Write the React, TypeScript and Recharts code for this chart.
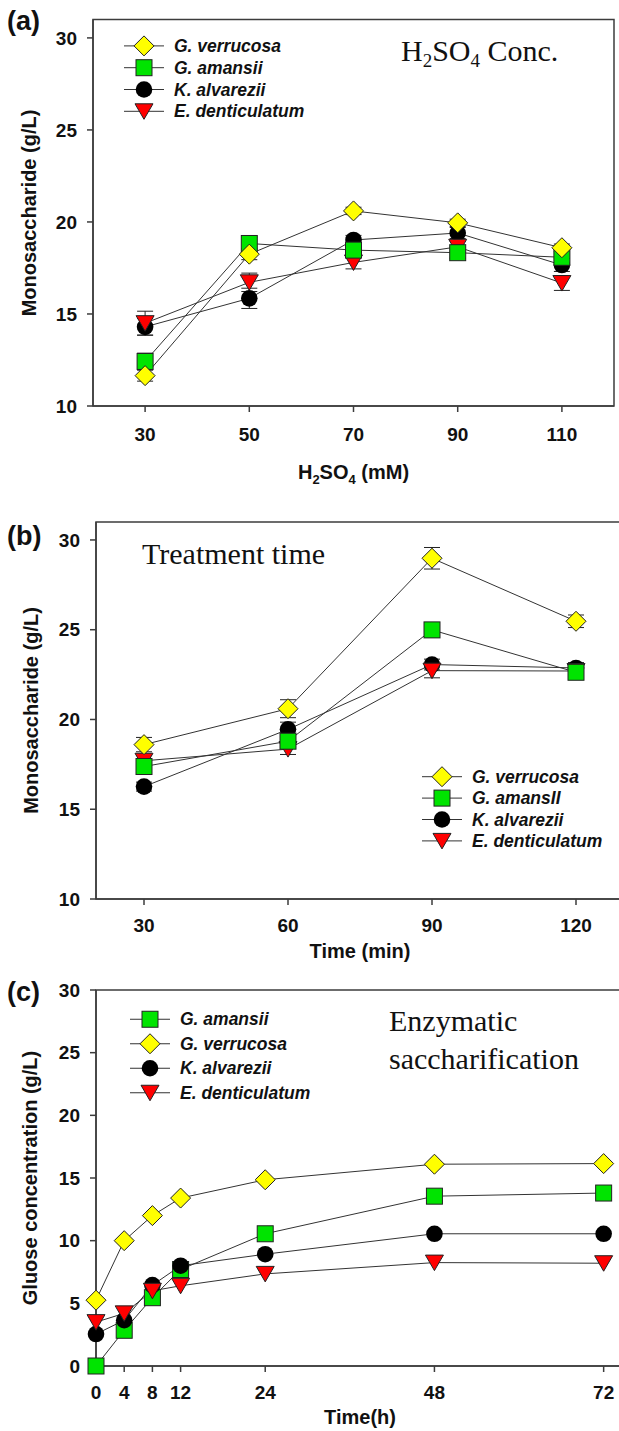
import React from 'react';
import { LineChart, Line, XAxis, YAxis, ErrorBar, ReferenceArea, Legend } from 'recharts';

// (a) acid concentration, mM
const acidConc = [30, 50, 70, 90, 110];
const acidVerrucosa = [11.65, 18.25, 20.6, 19.95, 18.6];
const acidAmansii = [12.42, 18.83, 18.47, 18.33, 18.08];
const acidAlvarezii = [14.3, 15.85, 19.02, 19.4, 17.66];
const acidDenticulatum = [14.5, 16.72, 17.8, 18.65, 16.68];
const acidVerrucosaErr = [0.3, 0.3, 0.2, 0.2, 0.2];
const acidAmansiiErr = [0.45, 0.35, 0.3, 0.3, 0.3];
const acidAlvareziiErr = [0.45, 0.55, 0.25, 0.3, 0.35];
const acidDenticulatumErr = [0.65, 0.5, 0.35, 0.3, 0.4];

// (b) treatment time, min
const timeMin = [30, 60, 90, 120];
const timeVerrucosa = [18.6, 20.6, 28.98, 25.47];
const timeAmansii = [17.38, 18.79, 24.99, 22.63];
const timeAlvarezii = [16.26, 19.45, 23.06, 22.87];
const timeDenticulatum = [17.7, 18.35, 22.72, 22.7];
const timeVerrucosaErr = [0.4, 0.5, 0.6, 0.35];
const timeAmansiiErr = [0.3, 0.3, 0.4, 0.3];
const timeAlvareziiErr = [0.25, 0.4, 0.3, 0.3];
const timeDenticulatumErr = [0.3, 0.3, 0.4, 0.3];

// (c) enzymatic saccharification, h
const hours = [0, 4, 8, 12, 24, 48, 72];
const glcAmansii = [0, 2.85, 5.45, 7.7, 10.55, 13.55, 13.8];
const glcVerrucosa = [5.25, 10.0, 12.0, 13.4, 14.86, 16.1, 16.15];
const glcAlvarezii = [2.55, 3.65, 6.45, 8.0, 8.92, 10.55, 10.55];
const glcDenticulatum = [3.5, 4.2, 6.0, 6.4, 7.35, 8.25, 8.2];

const monoTicks = [10, 15, 20, 25, 30];
const glcTicks = [0, 5, 10, 15, 20, 25, 30];

const FONT = '"Liberation Sans", Arial, sans-serif';
const SERIF = '"Liberation Serif", "Times New Roman", serif';
const AXIS = '#3c3c3c';

type Kind = 'diamond' | 'square' | 'circle' | 'triangle';

const species: Record<string, { kind: Kind; name: string }> = {
  gv: { kind: 'diamond', name: 'G. verrucosa' },
  ga: { kind: 'square', name: 'G. amansii' },
  ka: { kind: 'circle', name: 'K. alvarezii' },
  ed: { kind: 'triangle', name: 'E. denticulatum' },
};

const acidRows = acidConc.map((x, i) => ({
  x,
  gv: acidVerrucosa[i], ga: acidAmansii[i], ka: acidAlvarezii[i], ed: acidDenticulatum[i],
  gvErr: acidVerrucosaErr[i], gaErr: acidAmansiiErr[i], kaErr: acidAlvareziiErr[i], edErr: acidDenticulatumErr[i],
}));

const timeRows = timeMin.map((x, i) => ({
  x,
  gv: timeVerrucosa[i], ga: timeAmansii[i], ka: timeAlvarezii[i], ed: timeDenticulatum[i],
  gvErr: timeVerrucosaErr[i], gaErr: timeAmansiiErr[i], kaErr: timeAlvareziiErr[i], edErr: timeDenticulatumErr[i],
}));

const glcRows = hours.map((x, i) => ({
  x, ga: glcAmansii[i], gv: glcVerrucosa[i], ka: glcAlvarezii[i], ed: glcDenticulatum[i],
}));

function Marker({ kind, cx, cy }: { kind: Kind; cx: number; cy: number }) {
  if (kind === 'diamond')
    return <path d={`M${cx},${cy - 10}L${cx + 10},${cy}L${cx},${cy + 10}L${cx - 10},${cy}Z`} fill="#ffff00" stroke="#222" strokeWidth={1} />;
  if (kind === 'square')
    return <rect x={cx - 8} y={cy - 8} width={16} height={16} fill="#00e400" stroke="#222" strokeWidth={1} />;
  if (kind === 'circle') return <circle cx={cx} cy={cy} r={8.3} fill="#000" />;
  return <path d={`M${cx - 9},${cy - 7.5}L${cx + 9},${cy - 7.5}L${cx},${cy + 8}Z`} fill="#ff0000" stroke="#222" strokeWidth={1} />;
}

const dotFor = (key: string) => (p: any) => {
  if (p.cx == null || p.cy == null) return <g key={`${key}-${p.index}`} />;
  return (
    <g key={`${key}-${p.index}`}>
      <Marker kind={species[key].kind} cx={p.cx} cy={p.cy} />
    </g>
  );
};

function SpeciesLegend({ order, rowH, names = {} }: { order: string[]; rowH: number; names?: Record<string, string> }) {
  return (
    <svg width={230} height={rowH * order.length} style={{ overflow: 'visible', display: 'block' }}>
      {order.map((k, i) => {
        const y = rowH * (i + 0.5);
        return (
          <g key={k}>
            <line x1={0} x2={40} y1={y} y2={y} stroke="#333" strokeWidth={1} />
            <Marker kind={species[k].kind} cx={20} cy={y} />
            <text x={50} y={y} dy="0.35em" fontFamily={FONT} fontStyle="italic" fontWeight={700} fontSize={17.5} fill="#111">
              {names[k] || species[k].name}
            </text>
          </g>
        );
      })}
    </svg>
  );
}

const tickStyle = { fill: '#111', fontSize: 19, fontWeight: 700, fontFamily: FONT };

function seriesLines(order: string[], withErr: boolean) {
  return order.map((k) => (
    <Line
      key={k}
      type="linear"
      dataKey={k}
      stroke="#333"
      strokeWidth={1}
      dot={dotFor(k)}
      activeDot={false}
      isAnimationActive={false}
    >
      {withErr && <ErrorBar dataKey={`${k}Err`} direction="y" width={8} stroke="#222" strokeWidth={1} isAnimationActive={false} />}
    </Line>
  ));
}

function yTitle(text: string, x: number, y: number) {
  return () => (
    <text x={x} y={y} transform={`rotate(-90, ${x}, ${y})`} textAnchor="middle" fontFamily={FONT} fontWeight={700} fontSize={20} fill="#111">
      {text}
    </text>
  );
}

function xTitle(content: React.ReactNode, x: number, y: number) {
  return () => (
    <text x={x} y={y} textAnchor="middle" fontFamily={FONT} fontWeight={700} fontSize={20} fill="#111">
      {content}
    </text>
  );
}

export default function App() {
  return (
    <div style={{ position: 'absolute', left: 0, top: 0, width: 619, height: 1431, overflow: 'hidden', background: '#fff' }}>
      {/* (a) */}
      <div style={{ position: 'absolute', left: 0, top: 0 }}>
        <LineChart width={619} height={490} data={acidRows} margin={{ top: 19.5, right: 5, left: 0, bottom: 0 }}>
          <XAxis
            type="number" dataKey="x" domain={[20, 120]} ticks={acidConc} interval={0}
            height={84} tickSize={6} tickMargin={16} tick={tickStyle}
            axisLine={{ stroke: AXIS, strokeWidth: 1.5 }} tickLine={{ stroke: AXIS, strokeWidth: 1.5 }}
            label={xTitle(<>H<tspan dy={5} fontSize={13}>2</tspan><tspan dy={-5}>SO</tspan><tspan dy={5} fontSize={13}>4</tspan><tspan dy={-5}> (mM)</tspan></>, 353.5, 479)}
          />
          <YAxis
            type="number" domain={[10, 31]} ticks={monoTicks} interval={0}
            width={93} tickSize={6} tickMargin={10} tick={tickStyle}
            axisLine={{ stroke: AXIS, strokeWidth: 1.5 }} tickLine={{ stroke: AXIS, strokeWidth: 1.5 }}
            label={yTitle('Monosaccharide (g/L)', 36, 213)}
          />
          <ReferenceArea x1={20} x2={120} y1={10} y2={31} fill="none" stroke={AXIS} strokeWidth={1.5} ifOverflow="visible" />
          {seriesLines(['ka', 'ed', 'ga', 'gv'], true)}
          <Legend
            layout="vertical" align="center" verticalAlign="middle"
            wrapperStyle={{ left: 124, top: 35.1, width: 230 }}
            content={() => <SpeciesLegend order={['gv', 'ga', 'ka', 'ed']} rowH={21.8} />}
          />
        </LineChart>
      </div>

      {/* (b) */}
      <div style={{ position: 'absolute', left: 0, top: 500 }}>
        <LineChart width={640} height={480} data={timeRows} margin={{ top: 22, right: 16, left: 0, bottom: 0 }}>
          <XAxis
            type="number" dataKey="x" domain={[20, 130]} ticks={timeMin} interval={0}
            height={81} tickSize={6} tickMargin={14} tick={tickStyle}
            axisLine={{ stroke: AXIS, strokeWidth: 1.5 }} tickLine={{ stroke: AXIS, strokeWidth: 1.5 }}
            label={xTitle('Time (min)', 360, 458)}
          />
          <YAxis
            type="number" domain={[10, 31]} ticks={monoTicks} interval={0}
            width={96} tickSize={6} tickMargin={10} tick={tickStyle}
            axisLine={{ stroke: AXIS, strokeWidth: 1.5 }} tickLine={{ stroke: AXIS, strokeWidth: 1.5 }}
            label={yTitle('Monosaccharide (g/L)', 38, 210.5)}
          />
          <ReferenceArea x1={20} x2={130} y1={10} y2={31} fill="none" stroke={AXIS} strokeWidth={1.5} ifOverflow="visible" />
          {seriesLines(['ka', 'ed', 'ga', 'gv'], true)}
          <Legend
            layout="vertical" align="center" verticalAlign="middle"
            wrapperStyle={{ left: 422, top: 266.3, width: 230 }}
            content={() => <SpeciesLegend order={['gv', 'ga', 'ka', 'ed']} rowH={21.4} names={{ ga: 'G. amansII' }} />}
          />
        </LineChart>
      </div>

      {/* (c) */}
      <div style={{ position: 'absolute', left: 0, top: 970 }}>
        <LineChart width={640} height={461} data={glcRows} margin={{ top: 20, right: 15.2, left: 0, bottom: 0 }}>
          <XAxis
            type="number" dataKey="x" domain={[0, 75]} ticks={hours} interval={0}
            height={65} tickSize={6} tickMargin={14} tick={tickStyle}
            axisLine={{ stroke: AXIS, strokeWidth: 1.5 }} tickLine={{ stroke: AXIS, strokeWidth: 1.5 }}
            label={xTitle('Time(h)', 360, 454)}
          />
          <YAxis
            type="number" domain={[0, 30]} ticks={glcTicks} interval={0}
            width={96} tickSize={6} tickMargin={10} tick={tickStyle}
            axisLine={{ stroke: AXIS, strokeWidth: 1.5 }} tickLine={{ stroke: AXIS, strokeWidth: 1.5 }}
            label={yTitle('Gluose concentration (g/L)', 37, 208)}
          />
          <ReferenceArea x1={0} x2={75} y1={0} y2={30} fill="none" stroke={AXIS} strokeWidth={1.5} ifOverflow="visible" />
          {seriesLines(['ga', 'ka', 'ed', 'gv'], false)}
          <Legend
            layout="vertical" align="center" verticalAlign="middle"
            wrapperStyle={{ left: 129.5, top: 37.4, width: 230 }}
            content={() => <SpeciesLegend order={['ga', 'gv', 'ka', 'ed']} rowH={24.5} />}
          />
        </LineChart>
      </div>

      {/* panel letters and annotations */}
      <svg width={619} height={1431} style={{ position: 'absolute', left: 0, top: 0, pointerEvents: 'none' }}>
        <g fontFamily={FONT} fontWeight={700} fontSize={27} fill="#111">
          <text x={7} y={30}>(a)</text>
          <text x={7} y={545}>(b)</text>
          <text x={7} y={1001}>(c)</text>
        </g>
        <g fontFamily={SERIF} fontSize={30} fill="#111">
          <text x={401} y={61}>
            H<tspan dy={6} fontSize={19}>2</tspan><tspan dy={-6}>SO</tspan><tspan dy={6} fontSize={19}>4</tspan><tspan dy={-6}> Conc.</tspan>
          </text>
          <text x={142} y={564}>Treatment time</text>
          <text x={389} y={1031}>Enzymatic</text>
          <text x={389} y={1069}>saccharification</text>
        </g>
      </svg>
    </div>
  );
}
